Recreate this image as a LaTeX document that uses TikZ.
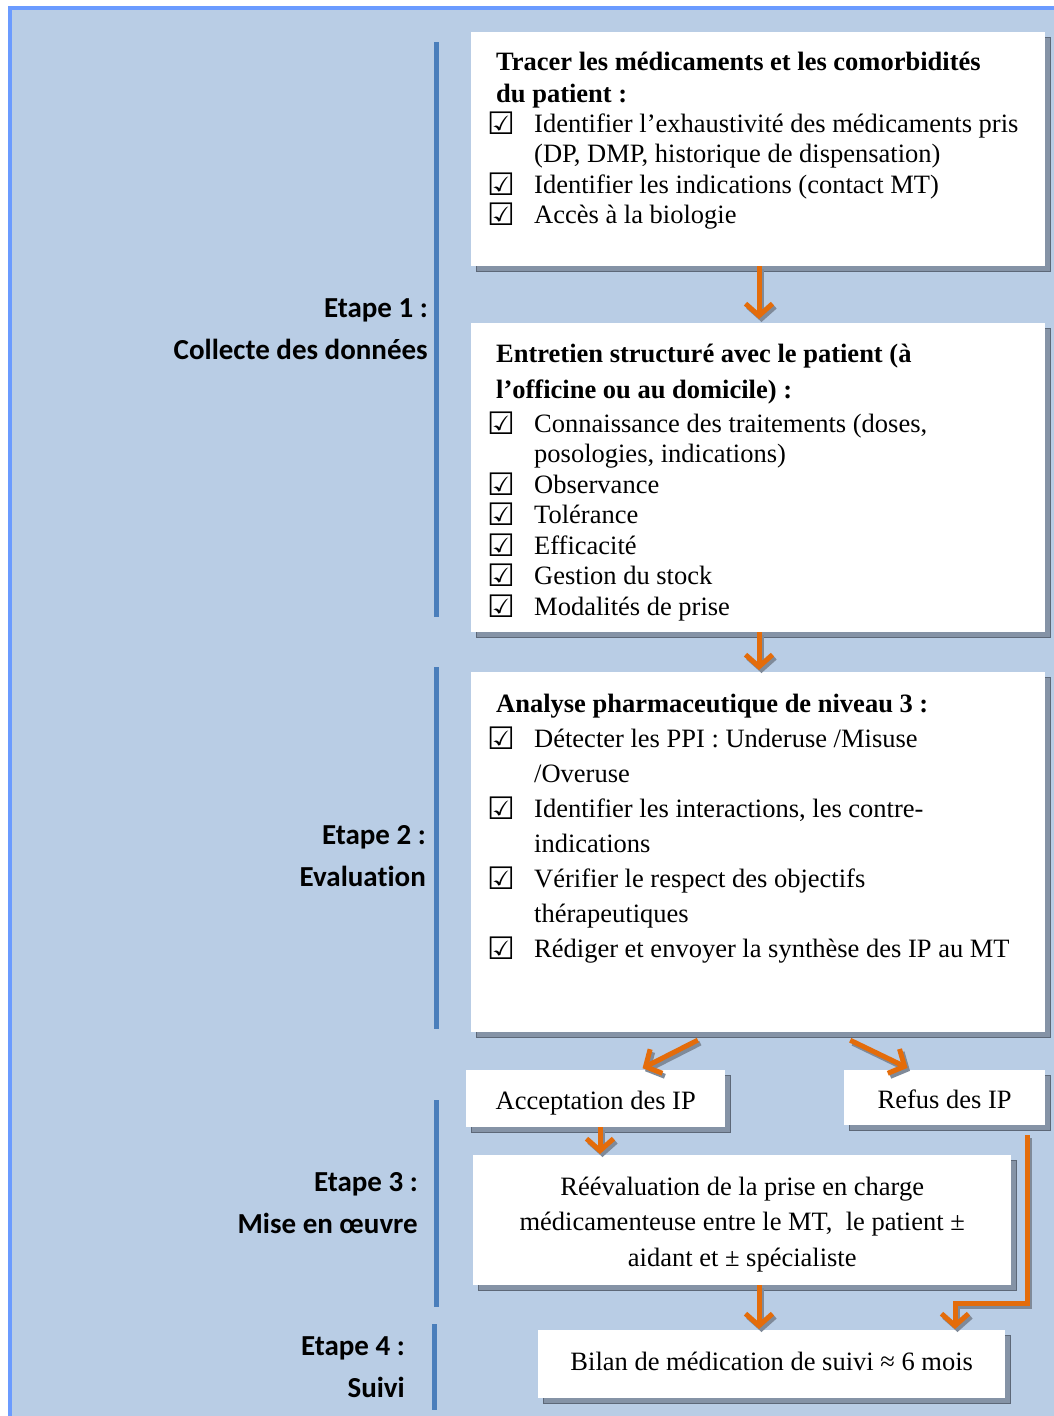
\documentclass[tikz,border=0pt]{standalone}
\usepackage{fontspec}
\setmainfont{Liberation Serif}
\newfontfamily\lblfont[Ligatures=NoCommon]{Carlito}
\newfontfamily\symfont{DejaVu Sans}
\usetikzlibrary{arrows.meta,shadows,calc}
\definecolor{bgblue}{HTML}{B9CDE5}
\definecolor{frameblue}{HTML}{6B9BFF}
\definecolor{barblue}{HTML}{4A7EBB}
\definecolor{arrorange}{HTML}{E46C0A}
\definecolor{shmid}{HTML}{8593A6}
\definecolor{shdark}{HTML}{5D6878}
\definecolor{arrshadow}{HTML}{7F8A99}
\newcommand\chk{\makebox[46pt][l]{\hspace*{-1pt}\raisebox{-2pt}{\symfont\bfseries\fontsize{31}{31}\selectfont ☑}}}
\newcommand\ind{\hspace*{46pt}}
\newcommand\fst{\rule{0pt}{22pt}}
\begin{document}
\begin{tikzpicture}[x=1pt,y=-1pt,
  box/.style={fill=white, inner sep=0pt, anchor=north west,
    drop shadow={shadow xshift=5pt, shadow yshift=-5pt, fill=shmid, draw=shdark, line width=1.2pt, opacity=1}},
  cbox/.style={box, align=center, font=\fontsize{26.5}{35.5}\selectfont},
  txt/.style={anchor=north west, inner sep=0pt, align=left, font=\fontsize{26.5}{30.5}\selectfont},
  lbl/.style={anchor=north east, inner sep=0pt, align=right, font=\lblfont\bfseries\fontsize{29}{42}\selectfont},
  bar/.style={draw=barblue, line width=5pt},
  arr/.style={draw=arrorange, line width=5pt, -{Straight Barb[length=12pt,width=27pt]}},
  arrsh/.style={arr, draw=arrshadow, transform canvas={shift={(2.5pt,-3pt)}}},
  routed/.style={rounded corners=0pt, line join=miter}]
\useasboundingbox (0,0) rectangle (1054,1416);
\fill[white] (0,0) rectangle (1054,1416);
\begin{scope}
\clip (0,0) rectangle (1054,1416);
\draw[draw=frameblue, fill=bgblue, line width=4pt] (10,8) rectangle (1070,1430);
\end{scope}

% stage bars
\draw[bar] (436,42) -- (436,617);
\draw[bar] (436,667) -- (436,1029);
\draw[bar] (436,1100) -- (436,1307);
\draw[bar] (434,1324) -- (434,1410);

% stage labels
\node[lbl] (e1) at (428,294) {\rule{0pt}{23pt}Etape 1 :\\Collecte des données};
\node[lbl] (e2) at (426,821) {\rule{0pt}{23pt}Etape 2 :\\Evaluation};
\node[lbl] (e3) at (418,1168) {\rule{0pt}{23pt}Etape 3 :\\Mise en œuvre};
\node[lbl] (e4) at (405,1332) {\rule{0pt}{23pt}Etape 4 :\\Suivi};

% boxes
\node[box, minimum width=574pt, minimum height=234pt] (box1) at (471,32) {};
\node[box, minimum width=574pt, minimum height=309pt] (box2) at (471,323) {};
\node[box, minimum width=574pt, minimum height=360pt] (box3) at (471,672) {};
\node[cbox, minimum width=259pt, minimum height=57pt, text height=27pt, text depth=6pt] (acc) at (466,1070) {Acceptation des IP};
\node[cbox, minimum width=201pt, minimum height=55pt, text height=27pt, text depth=6pt] (ref) at (844,1070) {Refus des IP};
\node[cbox, minimum width=538pt, minimum height=130pt] (reev) at (473,1155)
  {\rule{0pt}{26.5pt}Réévaluation de la prise en charge\\médicamenteuse entre le MT,\ \ le patient ±\\aidant et ± spécialiste};
\node[cbox, minimum width=467pt, minimum height=68pt] (bilan) at (538,1330) {\rule[-6pt]{0pt}{6pt}Bilan de médication de suivi ≈ 6 mois};

% box texts
\node[txt] (t1) at (488,48) {\fst\hspace*{8pt}\textbf{Tracer les médicaments et les comorbidités}\\[1.5pt]
\hspace*{8pt}\textbf{du patient :}\\[-0.5pt]
\chk Identifier l’exhaustivité des médicaments pris\\
\ind (DP, DMP, historique de dispensation)\\
\chk Identifier les indications (contact MT)\\
\chk Accès à la biologie};

\node[txt] (t2) at (488,340) {\fst\hspace*{8pt}\textbf{Entretien structuré avec le patient (à}\\[5.5pt]
\hspace*{8pt}\textbf{l’officine ou au domicile) :}\\[3.5pt]
\chk Connaissance des traitements (doses,\\
\ind posologies, indications)\\
\chk Observance\\
\chk Tolérance\\
\chk Efficacité\\
\chk Gestion du stock\\
\chk Modalités de prise};

\node[txt, font=\fontsize{26.5}{35}\selectfont] (t3) at (488,690) {\fst\hspace*{8pt}\textbf{Analyse pharmaceutique de niveau 3 :}\\
\chk Détecter les PPI : Underuse /Misuse\\
\ind /Overuse\\
\chk Identifier les interactions, les contre-\\
\ind indications\\
\chk Vérifier le respect des objectifs\\
\ind thérapeutiques\\
\chk Rédiger et envoyer la synthèse des IP au MT};

% arrow columns
\coordinate (c759) at (759,0);
\coordinate (c600) at (600,0);
\coordinate (c713) at (713,0);
\coordinate (c639) at (639,0);
\coordinate (c834) at (834,0);
\coordinate (c912) at (912,0);
\coordinate (c1027) at (1027,0);
\coordinate (c955) at (955,0);
\coordinate (r1303) at (0,1303);

% arrows (shadow first)
\foreach \s in {arrsh,arr}{
  \draw[\s, shorten >=4pt] (box1.south -| c759) -- (box2.north -| c759);
  \draw[\s, shorten >=2pt] (box2.south -| c759) -- (box3.north -| c759);
  \draw[\s, shorten <=17pt, shorten >=4pt] (box3.south -| c713) -- (acc.north -| c639);
  \draw[\s, shorten <=18pt, shorten >=5pt] (box3.south -| c834) -- (ref.north -| c912);
  \draw[\s, shorten >=1pt] (acc.south -| c600) -- (reev.north -| c600);
  \draw[\s, shorten >=1pt] (reev.south -| c759) -- (bilan.north -| c759);
  \draw[\s, routed, shorten <=10pt, shorten >=1pt] (ref.south -| c1027) -- (r1303 -| c1027) -- (r1303 -| c955) -- (bilan.north -| c955);
}
\end{tikzpicture}
\end{document}
